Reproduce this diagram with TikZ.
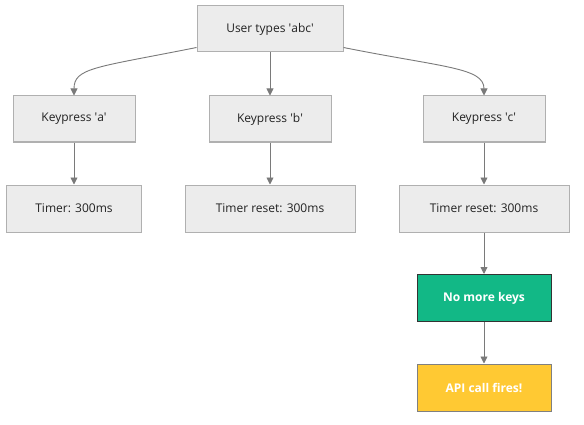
\documentclass[tikz,border=0pt]{standalone}
\usepackage{fontspec}
\setmainfont{Open Sans}
\usetikzlibrary{arrows.meta}
\definecolor{boxfill}{HTML}{ECECEC}
\definecolor{boxline}{HTML}{B0B0B0}
\definecolor{edgecol}{HTML}{7A7A7A}
\definecolor{greenfill}{HTML}{12B886}
\definecolor{yellowfill}{HTML}{FFC933}
\definecolor{txt}{HTML}{222222}
\tikzset{
  box/.style={draw=boxline, fill=boxfill, line width=1pt, inner sep=0pt, text=txt,
    font=\fontsize{12}{14}\selectfont, minimum height=46pt},
  greenbox/.style={box, fill=greenfill, draw=black!80, text=white, font=\fontsize{12}{14}\selectfont\bfseries},
  yellowbox/.style={box, fill=yellowfill, draw=black!50, text=white, font=\fontsize{12}{14}\selectfont\bfseries},
  edge/.style={draw=edgecol, line width=0.9pt, -{Triangle[length=7pt,width=7pt]}}
}
\begin{document}
\begin{tikzpicture}[x=1pt,y=1pt]
\useasboundingbox (0,0) rectangle (584,424);
\fill[white] (0,0) rectangle (584,424);
\node[box, minimum width=146pt] (top) at (270,395) {User types \textquotesingle abc\textquotesingle};
\node[box, minimum width=122pt] (ka) at (74,305) {Keypress \textquotesingle a\textquotesingle};
\node[box, minimum width=122pt] (kb) at (270,305) {Keypress \textquotesingle b\textquotesingle};
\node[box, minimum width=122pt] (kc) at (484,305) {Keypress \textquotesingle c\textquotesingle};
\node[box, minimum width=135pt, minimum height=47pt] (ta) at (74,215.5) {Timer: 300ms};
\node[box, minimum width=170pt, minimum height=47pt] (tb) at (270,215.5) {Timer reset: 300ms};
\node[box, minimum width=170pt, minimum height=47pt] (tc) at (484,215.5) {Timer reset: 300ms};
\node[greenbox, minimum width=134pt, minimum height=47pt] (nm) at (484,126) {No more keys};
\node[yellowbox, minimum width=134pt, minimum height=47pt] (api) at (484,36.5) {API call fires!};
\draw[edge] ([yshift=5pt]top.south west) .. controls +(-100,-20) and +(0,28) .. (ka.north);
\draw[edge] ([yshift=5pt]top.south east) .. controls +(100,-20) and +(0,28) .. (kc.north);
\draw[edge] (top) -- (kb);
\draw[edge] (ka) -- (ta);
\draw[edge] (kb) -- (tb);
\draw[edge] (kc) -- (tc);
\draw[edge] (tc) -- (nm);
\draw[edge] (nm) -- (api);
\end{tikzpicture}
\end{document}
